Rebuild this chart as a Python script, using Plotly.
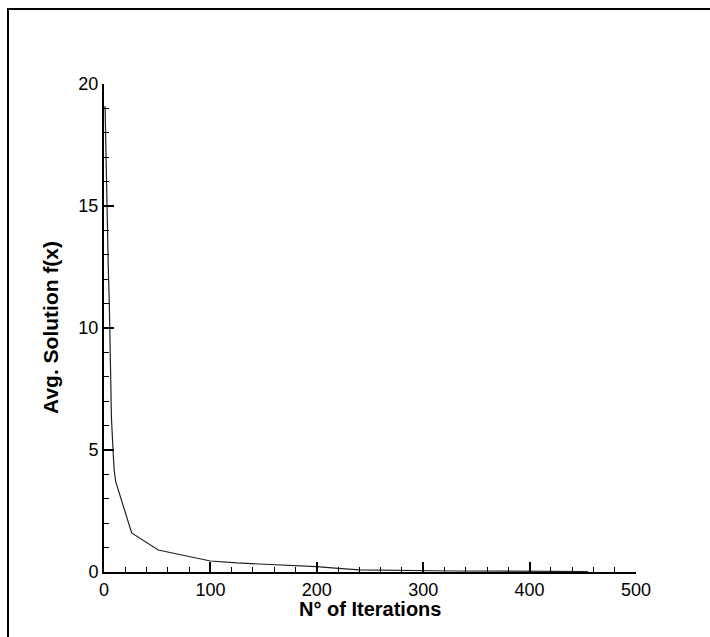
import plotly.graph_objects as go

iterations = [1, 2, 3, 4, 5, 6, 7, 8.5, 9.5, 11, 26, 51, 100, 125, 150, 175, 200, 220, 240, 330, 455]
avg_solution = [19.1, 16.5, 14.2, 12.5, 11.0, 8.0, 6.3, 5.0, 4.2, 3.7, 1.6, 0.9, 0.45, 0.37, 0.33, 0.27, 0.22, 0.15, 0.09, 0.04, 0.02]

x_ticks = [0, 100, 200, 300, 400, 500]
y_ticks = [0, 5, 10, 15, 20]

W, H = 710, 637
L, R, T, B = 104, 636, 84, 572

fig = go.Figure()
fig.add_trace(go.Scatter(x=iterations, y=avg_solution, mode="lines",
                         line=dict(color="#222222", width=1.2), showlegend=False))

font = dict(family="Liberation Sans, Arial, sans-serif", color="black")

fig.update_layout(
    width=W, height=H,
    margin=dict(l=L, r=W - R, t=T, b=H - B, pad=0),
    paper_bgcolor="white", plot_bgcolor="white",
    font=font,
    xaxis=dict(range=[0, 500], tickvals=x_ticks, ticks="inside", ticklen=10, tickwidth=2,
               tickcolor="black", showline=True, linewidth=2, linecolor="black",
               showgrid=False, zeroline=False, tickfont=dict(size=18, **font),
               minor=dict(ticks="inside", dtick=20, ticklen=5, tickwidth=1, tickcolor="black", showgrid=False)),
    yaxis=dict(range=[0, 20], tickvals=y_ticks, ticks="inside", ticklen=10, tickwidth=2,
               tickcolor="black", showline=True, linewidth=2, linecolor="black",
               showgrid=False, zeroline=False, tickfont=dict(size=18, **font),
               minor=dict(ticks="inside", dtick=1, ticklen=5, tickwidth=1, tickcolor="black", showgrid=False)),
)

pw, ph = R - L, B - T
fig.add_annotation(text="<b>N° of Iterations</b>", xref="paper", yref="paper",
                   x=0.5, y=(B - 609) / ph, xanchor="center", yanchor="middle",
                   showarrow=False, font=dict(size=20, **font))
fig.add_annotation(text="<b>Avg. Solution f(x)</b>", xref="paper", yref="paper",
                   x=(50 - L) / pw, y=0.5, xanchor="center", yanchor="middle", textangle=-90,
                   showarrow=False, font=dict(size=21, **font))

fig.add_shape(type="rect", xref="paper", yref="paper",
              x0=(8 - L) / pw, x1=(W + 20 - L) / pw,
              y0=(B - (H + 20)) / ph, y1=(B - 9) / ph,
              line=dict(color="black", width=2), fillcolor="rgba(0,0,0,0)", layer="below")

fig.write_html("out.html")
